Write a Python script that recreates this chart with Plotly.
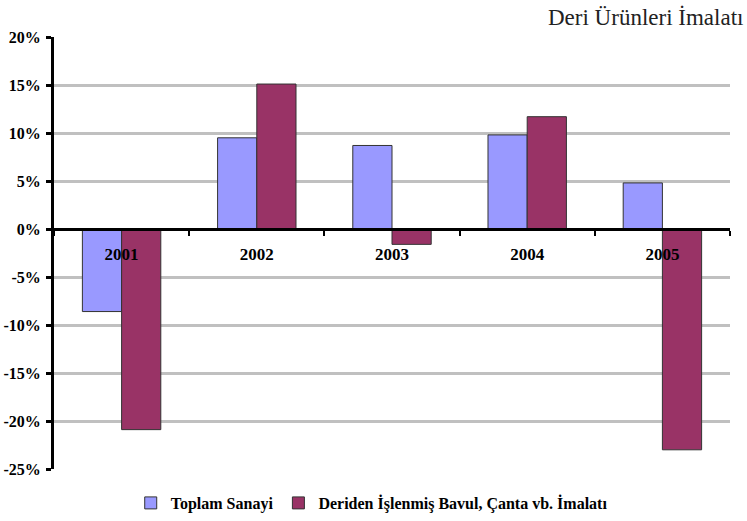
import plotly.graph_objects as go

years = ["2001", "2002", "2003", "2004", "2005"]
toplam_sanayi = [-8.6, 9.5, 8.7, 9.8, 4.8]
deri_bavul = [-20.9, 15.1, -1.6, 11.7, -23.0]
y_ticks = [-25, -20, -15, -10, -5, 0, 5, 10, 15, 20]
y_ticklabels = [f"{v}%" for v in y_ticks]

serif = "Liberation Serif"

fig = go.Figure()
fig.add_trace(go.Bar(x=years, y=toplam_sanayi, name="Toplam Sanayi",
                     marker=dict(color="#9999FF", line=dict(color="#333333", width=1))))
fig.add_trace(go.Bar(x=years, y=deri_bavul, name="Deriden İşlenmiş Bavul, Çanta vb. İmalatı",
                     marker=dict(color="#993366", line=dict(color="#333333", width=1))))

ymin, ymax = -25, 20
fig.update_layout(
    width=747, height=521,
    margin=dict(l=54, r=17, t=37, b=52, autoexpand=False),
    paper_bgcolor="white", plot_bgcolor="white",
    barmode="group", bargap=0.42, bargroupgap=0,
    font=dict(family=serif, color="black"),
    showlegend=True,
    legend=dict(orientation="h", x=0.47, xanchor="center",
                yref="container", y=(521 - 503) / 521, yanchor="middle",
                font=dict(family=serif, size=16, color="black", weight="bold"),
                traceorder="normal", itemwidth=30),
    xaxis=dict(anchor="free", position=(0 - ymin) / (ymax - ymin),
               showline=True, linecolor="black", linewidth=3,
               ticks="outside", tickson="boundaries", ticklen=5, tickwidth=2, tickcolor="black",
               showgrid=False, automargin=False,
               tickfont=dict(family=serif, size=17, color="black", weight="bold"),
               ticklabelstandoff=9),
    yaxis=dict(range=[ymin, ymax], tickvals=y_ticks, ticktext=y_ticklabels,
               showline=True, linecolor="black", linewidth=3,
               ticks="outside", ticklen=5, tickwidth=3, tickcolor="black",
               showgrid=True, gridcolor="#C0C0C0", gridwidth=3, zeroline=False,
               ticklabelstandoff=2, automargin=False,
               tickfont=dict(family=serif, size=16, color="black", weight="bold")),
    annotations=[dict(text="Deri Ürünleri İmalatı", xref="paper", yref="paper",
                      x=1.022, y=1.046, xanchor="right", yanchor="middle", showarrow=False,
                      font=dict(family=serif, size=23, color="#222222"))],
)

fig.write_html("out.html", config={"displayModeBar": False},
               post_script="document.body.style.margin='0';")
